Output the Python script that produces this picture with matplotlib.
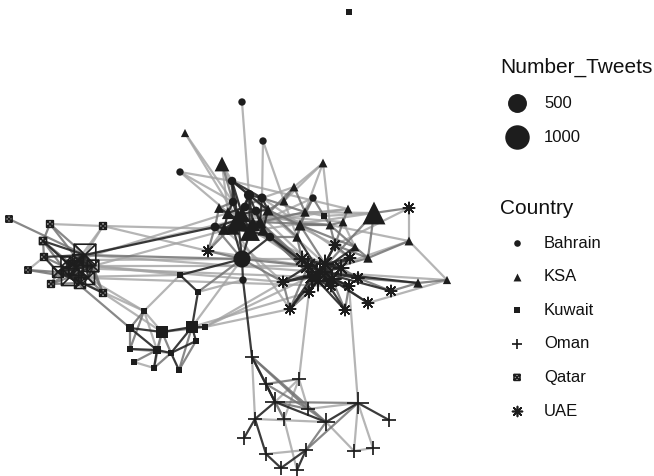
import numpy as np
import matplotlib
matplotlib.use("Agg")
import matplotlib.pyplot as plt
from matplotlib.path import Path

plt.rcParams["font.family"] = ["Liberation Sans", "DejaVu Sans"]

# ---------------- network data ----------------
# node id, layout position (x right, y down), country, number of tweets
node_ids = [
    # Qatar
    "Q0", "Q1", "Q2", "Q3", "Q4", "Q5", "Q6", "Q7", "Q8", "Q9", "Q10", "Q11", "Q12",
    "Q13", "Q14", "Q15", "Q16",
    # Kuwait
    "K0", "K1", "K2", "K3", "K4", "K5", "K6", "K7", "K8", "K9", "K10", "K11", "K12", "K13", "K14", "K15",
    # Bahrain
    "B0", "B1", "B2", "B3", "B4", "B5", "B6", "B7", "B8", "B9", "B10", "B11", "B12", "B13",
    # KSA
    "S0", "S1", "S2", "S3", "S4", "S5", "S6", "S7", "S8", "S9", "S10", "S11", "S12", "S13",
    "S14", "S15", "S16", "S17", "S18", "S19", "S20", "S21", "S22", "S23",
    "S24", "S25", "S26", "S27",
    # UAE
    "U0", "U1", "U2", "U3", "U4", "U5", "U6", "U7", "U8", "U9", "U10", "U11", "U12", "U13",
    "U14", "U15", "U16", "U17", "U18", "U19", "U20",
    # Oman
    "O0", "O1", "O2", "O3", "O4", "O5", "O6", "O7", "O8", "O9", "O10", "O11", "O12", "O13",
    "O14", "O15", "O16",
]
node_x = [
    9, 50, 103, 43, 44, 28, 51, 103, 85, 70, 58, 93, 78,
    76, 88, 66, 80,
    180, 198, 144, 130, 162, 192, 205, 196, 130, 157, 171, 134, 154, 179, 349, 324,
    242, 263, 180, 232, 249, 262, 233, 313, 242, 270, 215, 243, 245, 256,
    185, 222, 323, 294, 284, 219, 305, 348, 343, 330, 374, 409, 355, 368,
    297, 418, 447, 238, 250, 228, 260, 268, 224, 300,
    242, 253, 233, 263,
    409, 208, 350, 283, 309, 358, 349, 331, 391, 368, 345, 290, 320, 335,
    308, 332, 302, 341, 318, 325, 312,
    252, 299, 266, 275, 308, 284, 255, 326, 358, 389, 244, 266, 306, 354,
    373, 281, 297,
]
node_y = [
    219, 224, 226, 241, 257, 270, 284, 293, 255, 277, 272, 266, 260,
    268, 278, 262, 283,
    275, 292, 311, 328, 332, 327, 327, 341, 349, 350, 353, 362, 368, 370, 12, 216,
    102, 141, 172, 181, 195, 198, 202, 198, 259, 237, 227, 280, 207, 211,
    133, 164, 163, 187, 201, 208, 212, 209, 222, 225, 213, 241, 247, 258,
    237, 283, 280, 220, 231, 213, 222, 210, 229, 225,
    214, 224, 228, 230,
    208, 251, 258, 282, 292, 278, 286, 286, 291, 303, 310, 309, 272, 245,
    266, 279, 259, 268, 281, 264, 277,
    357, 379, 384, 402, 409, 419, 419, 422, 403, 420, 438, 454, 450, 451,
    448, 468, 470,
]
node_country = (
    ["Qatar"] * 17 + ["Kuwait"] * 16 + ["Bahrain"] * 14 + ["KSA"] * 28
    + ["UAE"] * 21 + ["Oman"] * 17
)
node_tweets = [
    # Qatar
    5, 10, 10, 15, 10, 5, 10, 10, 950, 500, 110, 150, 120,
    300, 220, 90, 120,
    # Kuwait
    15, 10, 15, 25, 160, 200, 10, 20, 5, 40, 20, 15, 10, 10, 10, 10,
    # Bahrain
    10, 10, 10, 25, 60, 35, 25, 10, 370, 25, 30, 10, 30, 30,
    # KSA
    5, 130, 10, 10, 10, 20, 15, 10, 10, 10, 510, 10, 10, 15,
    15, 15, 5, 480, 340, 60, 70, 40, 50, 40,
    160, 110, 90, 40,
    # UAE
    10, 10, 10, 10, 10, 15, 10, 10, 10, 10, 10, 10, 280, 10,
    120, 110, 60, 60, 150, 100, 80,
    # Oman
    30, 25, 30, 120, 25, 25, 25, 80, 170, 25, 20, 25, 40, 20,
    20, 25, 20,
]

# edges: (from, to, strength 1 = weak ... 3 = strong)
edges = [
    # Qatar
    ("Q0", "Q8", 2), ("Q1", "Q3", 2), ("Q1", "Q8", 2), ("Q1", "Q2", 1), ("Q1", "Q12", 2),
    ("Q2", "Q8", 1), ("Q2", "Q12", 1), ("Q3", "Q8", 3), ("Q3", "Q4", 2), ("Q3", "Q9", 2),
    ("Q4", "Q8", 3), ("Q4", "Q10", 3), ("Q4", "Q5", 1), ("Q5", "Q9", 2), ("Q5", "Q10", 2),
    ("Q6", "Q9", 2), ("Q6", "Q10", 2), ("Q7", "Q9", 3), ("Q7", "Q8", 2), ("Q7", "Q11", 2),
    ("Q8", "Q9", 3), ("Q8", "Q10", 3), ("Q8", "Q11", 3), ("Q8", "Q12", 3), ("Q9", "Q10", 3),
    ("Q9", "Q11", 3), ("Q9", "Q12", 3), ("Q10", "Q12", 3), ("Q11", "Q12", 3), ("Q10", "Q11", 3),
    ("Q13", "Q8", 3), ("Q13", "Q9", 3), ("Q13", "Q10", 3), ("Q13", "Q11", 3), ("Q13", "Q12", 3),
    ("Q14", "Q8", 3), ("Q14", "Q9", 3), ("Q14", "Q13", 3), ("Q14", "Q11", 3), ("Q14", "Q10", 3),
    ("Q15", "Q8", 3), ("Q15", "Q9", 3), ("Q15", "Q14", 3), ("Q15", "Q11", 3), ("Q15", "Q3", 3),
    ("Q16", "Q8", 3), ("Q16", "Q12", 3), ("Q16", "Q10", 3), ("Q16", "Q15", 3), ("Q16", "Q6", 2),
    ("Q13", "Q3", 2), ("Q14", "Q7", 2), ("Q13", "Q6", 2), ("Q14", "Q4", 2),
    ("Q8", "B10", 3), ("Q8", "S17", 1), ("Q2", "U1", 1), ("Q8", "U12", 1), ("Q11", "U3", 1),
    ("Q9", "K2", 1), ("Q9", "K3", 2), ("Q12", "B8", 1), ("Q8", "B8", 2), ("Q11", "U14", 1),
    ("Q9", "K0", 1), ("Q12", "S19", 1), ("Q7", "K4", 1), ("Q2", "S22", 1),
    ("Q13", "U20", 1), ("Q14", "U7", 1), ("Q11", "S26", 1), ("Q14", "K2", 1),
    # Kuwait
    ("K0", "K1", 3), ("K0", "B8", 3), ("K0", "K2", 1), ("K0", "Q11", 1),
    ("K1", "K5", 3), ("K1", "B8", 2), ("K1", "B11", 1),
    ("K2", "K3", 2), ("K2", "K4", 1), ("K2", "K8", 2), ("K2", "K9", 1),
    ("K3", "K4", 3), ("K3", "K9", 3), ("K3", "K8", 2),
    ("K4", "K5", 3), ("K4", "K9", 2), ("K4", "K10", 2), ("K4", "K12", 1), ("K4", "K6", 2),
    ("K5", "K6", 3), ("K5", "K7", 3), ("K5", "K13", 2), ("K5", "K10", 3),
    ("K7", "K10", 3), ("K7", "K13", 2), ("K8", "K9", 3), ("K8", "K10", 1), ("K9", "K10", 3),
    ("K9", "K12", 3), ("K9", "K11", 2), ("K10", "K13", 3), ("K12", "K10", 2), ("K11", "K12", 1),
    ("K6", "U12", 1), ("K6", "U11", 1), ("K6", "U3", 1), ("K5", "B8", 1), ("K5", "U4", 1),
    ("K15", "S6", 1), ("K15", "S9", 2), ("K15", "B7", 2), ("K15", "S10", 1),
    # Bahrain / KSA
    ("B0", "B4", 1), ("B1", "B5", 1), ("B1", "S4", 1),
    ("S0", "S17", 1), ("S0", "B6", 1),
    ("B2", "B3", 1), ("B2", "S18", 1), ("B2", "B6", 1),
    ("S1", "B3", 1), ("S1", "S19", 1), ("S1", "B6", 2), ("S1", "S18", 1),
    ("B3", "B4", 3), ("B3", "B5", 3), ("B3", "B6", 3), ("B3", "S17", 3), ("B3", "S21", 2),
    ("B4", "B5", 3), ("B4", "S17", 3), ("B4", "S18", 3), ("B4", "S20", 3), ("B4", "S21", 3),
    ("B5", "S20", 3), ("B5", "S21", 3), ("B5", "S6", 2), ("B5", "S3", 1),
    ("B6", "S17", 3), ("B6", "S19", 3), ("B6", "S5", 2),
    ("S5", "S17", 3), ("S5", "B10", 2),
    ("B10", "S17", 3), ("B10", "S18", 3), ("B10", "B8", 2), ("B10", "U1", 2),
    ("S17", "S18", 3), ("S17", "S19", 3), ("S17", "S20", 3), ("S17", "S22", 3),
    ("S18", "S20", 3), ("S18", "S22", 3), ("S18", "B8", 3), ("S18", "B9", 3), ("S19", "S22", 3),
    ("S24", "S17", 3), ("S24", "S18", 3), ("S24", "S25", 3), ("S24", "B12", 3), ("S24", "B13", 3),
    ("S25", "S18", 3), ("S25", "S20", 3), ("S25", "S26", 3), ("S25", "S27", 3), ("S26", "S17", 3),
    ("S26", "S22", 3), ("S26", "B8", 3), ("S27", "B9", 3), ("S27", "S20", 3), ("B12", "B4", 3),
    ("B12", "B13", 3), ("B13", "S21", 3), ("B13", "S20", 3), ("B12", "S19", 3), ("S26", "B10", 3),
    ("S24", "B3", 3), ("S25", "B4", 3), ("S27", "S21", 3), ("B12", "B5", 2),
    ("S2", "S3", 1), ("S2", "S9", 1), ("S2", "S4", 1), ("S2", "S23", 1),
    ("S3", "S4", 2), ("S3", "S20", 2), ("S3", "S6", 2),
    ("S4", "S21", 2), ("S4", "S14", 1),
    ("S6", "S14", 2), ("S6", "S20", 2), ("S6", "S23", 2),
    ("S7", "S8", 2), ("S7", "S20", 1), ("S7", "S17", 1),
    ("S8", "S9", 2), ("S8", "S12", 1),
    ("S9", "S23", 2), ("S9", "S20", 2), ("S9", "S12", 2),
    ("S10", "U0", 2), ("S10", "S13", 2), ("S10", "U12", 2), ("S10", "S6", 1), ("S10", "S18", 1),
    ("S11", "U0", 1), ("S11", "S13", 2), ("S11", "U12", 1), ("S11", "S9", 1),
    ("S12", "S13", 2), ("S12", "U12", 3), ("S12", "S23", 2),
    ("S13", "U13", 2), ("S13", "U12", 2),
    ("S14", "U12", 3), ("S14", "B9", 2), ("S14", "S23", 2),
    ("S15", "U12", 3), ("S15", "S16", 2), ("S15", "U5", 2),
    ("S16", "U12", 1), ("S16", "S11", 1),
    ("S21", "S23", 2), ("S21", "S14", 2),
    ("B7", "S6", 2), ("B7", "S23", 2), ("B7", "S20", 1),
    ("B9", "U12", 2), ("B9", "U14", 3), ("B9", "S20", 2),
    ("B8", "U1", 2), ("B8", "S17", 3), ("B8", "B9", 3), ("B8", "U14", 2), ("B8", "B11", 3),
    ("B8", "U3", 2), ("B8", "U16", 1), ("B11", "O0", 3), ("U1", "S17", 2), ("U1", "S22", 1),
    # KSA hub to UAE hub
    ("S17", "U12", 1), ("S18", "U19", 1), ("S24", "U16", 1), ("S25", "U14", 2), ("S27", "U20", 2),
    ("B4", "U19", 1), ("B13", "U12", 1), ("S20", "U18", 2), ("S21", "U13", 1), ("S23", "U19", 2),
    ("B5", "U2", 1), ("S22", "U3", 1), ("S26", "U11", 1), ("B9", "U18", 2), ("S19", "S9", 1),
    ("B3", "S7", 1), ("S24", "S8", 1), ("S5", "U14", 1),
    # UAE
    ("U12", "U14", 3), ("U12", "U15", 3), ("U12", "U16", 3), ("U12", "U17", 3),
    ("U12", "U2", 3), ("U12", "U3", 3), ("U12", "U4", 3), ("U12", "U5", 3),
    ("U12", "U6", 3), ("U12", "U7", 3), ("U12", "U8", 3), ("U12", "U9", 3),
    ("U12", "U10", 3), ("U12", "U11", 3), ("U12", "U13", 3),
    ("U14", "U16", 3), ("U14", "U3", 3), ("U14", "U11", 2), ("U14", "U4", 2),
    ("U15", "U7", 3), ("U15", "U6", 3), ("U15", "U10", 2), ("U15", "U9", 2),
    ("U16", "U17", 2), ("U17", "U2", 2), ("U17", "U5", 2), ("U15", "U17", 3),
    ("U18", "U12", 3), ("U18", "U14", 3), ("U18", "U15", 3), ("U18", "U4", 3), ("U18", "U7", 3),
    ("U18", "U10", 3), ("U19", "U12", 3), ("U19", "U13", 3), ("U19", "U17", 3), ("U19", "U16", 3),
    ("U19", "U2", 3), ("U20", "U14", 3), ("U20", "U18", 3), ("U20", "U3", 3), ("U20", "U11", 3),
    ("U20", "U19", 3), ("U18", "U6", 2), ("U19", "U5", 2),
    ("U13", "U2", 2), ("U13", "S9", 2), ("U13", "S8", 2), ("U0", "U13", 1),
    ("U8", "S15", 2), ("U9", "S16", 1), ("U3", "U11", 2), ("U4", "U11", 2),
    ("U1", "U14", 1), ("U16", "S14", 2), ("U17", "S12", 2), ("U14", "S20", 2),
    ("U8", "U5", 2), ("U10", "U6", 2),
    # UAE to Oman
    ("U4", "O1", 1), ("U6", "O8", 1),
    # Oman
    ("O0", "O3", 3), ("O0", "O2", 2), ("O0", "O6", 1), ("O0", "O5", 2), ("O0", "O7", 2),
    ("O0", "O4", 2), ("O1", "O2", 2), ("O1", "O3", 1), ("O1", "O4", 1), ("O1", "O5", 1),
    ("O2", "O3", 3), ("O2", "O4", 2), ("O3", "O4", 2), ("O3", "O6", 3), ("O3", "O5", 1),
    ("O3", "O7", 3), ("O3", "O8", 2), ("O4", "O7", 2), ("O4", "O8", 1), ("O6", "O7", 1),
    ("O6", "O10", 3), ("O6", "O11", 3), ("O7", "O8", 3), ("O7", "O12", 2), ("O7", "O13", 1),
    ("O8", "O9", 3), ("O8", "O13", 1), ("O8", "O14", 1), ("O8", "O12", 2),
    ("O11", "O15", 3), ("O11", "O12", 1), ("O12", "O15", 3), ("O12", "O16", 3),
    ("O5", "O16", 1), ("O13", "O14", 1),
]

countries = ["Bahrain", "KSA", "Kuwait", "Oman", "Qatar", "UAE"]
size_breaks = [500, 1000]

# ---------------- styling ----------------
ink = "#1d1d1d"
edge_colors = {1: (0.64, 0.64, 0.64, 0.8), 2: (0.45, 0.45, 0.45, 0.85), 3: (0.15, 0.15, 0.15, 0.9)}

# open square with both diagonals
_box_x = Path(
    [(-1, -1), (1, -1), (1, 1), (-1, 1), (-1, -1), (-1, -1), (1, 1), (-1, 1), (1, -1)],
    [Path.MOVETO, Path.LINETO, Path.LINETO, Path.LINETO, Path.CLOSEPOLY,
     Path.MOVETO, Path.LINETO, Path.MOVETO, Path.LINETO],
)
shape = {
    "Bahrain": dict(marker="o", scale=1.0, kind="fill", lw=0.0),
    "KSA": dict(marker="^", scale=1.2, kind="fill", lw=0.0),
    "Kuwait": dict(marker="s", scale=0.85, kind="fill", lw=0.0),
    "Oman": dict(marker="+", scale=1.6, kind="line", lw=1.25),
    "Qatar": dict(marker=_box_x, scale=0.9, kind="open", lw=1.2),
    "UAE": dict(marker=(8, 2, 0), scale=1.5, kind="line", lw=1.2),
}


def diam_px(n):
    return 5.5 + 0.6 * np.sqrt(n)


PX2PT = 0.72  # 100 dpi

fig = plt.figure(figsize=(6.54, 4.76), dpi=100)
ax = fig.add_axes([0, 0, 1, 1])
ax.set_xlim(0, 654)
ax.set_ylim(476, 0)
ax.axis("off")

pos = {nid: (x, y) for nid, x, y in zip(node_ids, node_x, node_y)}

# edges, weakest first so strong ties sit on top
for level in (1, 2, 3):
    for a, b, w in edges:
        if w != level:
            continue
        (x0, y0), (x1, y1) = pos[a], pos[b]
        ax.plot([x0, x1], [y0, y1], color=edge_colors[w], lw=1.6,
                solid_capstyle="butt", zorder=1 + 0.1 * w)


def draw_marker(xs, ys, country, d_px, zorder=5):
    st = shape[country]
    s = (np.asarray(d_px, float) * st["scale"] * PX2PT) ** 2
    if st["kind"] == "fill":
        ax.scatter(xs, ys, s=s, marker=st["marker"], color=ink, linewidths=0, zorder=zorder)
    elif st["kind"] == "open":
        ax.scatter(xs, ys, s=s, marker=st["marker"], facecolors="none",
                   edgecolors=ink, linewidths=st["lw"], zorder=zorder)
    else:
        ax.scatter(xs, ys, s=s, marker=st["marker"], color=ink,
                   linewidths=st["lw"], zorder=zorder)


node_x_arr = np.array(node_x, float)
node_y_arr = np.array(node_y, float)
node_c_arr = np.array(node_country)
node_n_arr = np.array(node_tweets, float)
for c in countries:
    m = node_c_arr == c
    draw_marker(node_x_arr[m], node_y_arr[m], c, diam_px(node_n_arr[m]))

# ---------------- legend ----------------
key_x, text_x, title_x = 517, 544, 500
ax.text(title_x, 67, "Number_Tweets", fontsize=15, va="center", ha="left", color="#111111")
for yy, n in zip([103, 137], size_breaks):
    ax.scatter([key_x], [yy], s=(diam_px(n) * PX2PT) ** 2, marker="o", color=ink, linewidths=0)
    ax.text(text_x, yy, f"{n}", fontsize=12, va="center", ha="left", color="#111111")

ax.text(title_x, 208, "Country", fontsize=15, va="center", ha="left", color="#111111")
for i, c in enumerate(countries):
    yy = 243 + i * 33.6
    draw_marker([key_x], [yy], c, [6.6])
    ax.text(text_x, yy, c, fontsize=12, va="center", ha="left", color="#111111")

fig.savefig("out.png", dpi=100)
